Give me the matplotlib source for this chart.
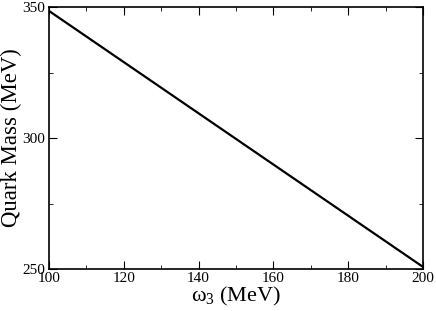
import matplotlib
matplotlib.use("Agg")
import matplotlib.pyplot as plt
from matplotlib.ticker import MultipleLocator

omega3 = [100, 200]
quark_mass = [348.5, 250.8]

plt.rcParams['font.family'] = ['Liberation Serif', 'DejaVu Serif']
plt.rcParams['mathtext.fontset'] = 'custom'
plt.rcParams['mathtext.rm'] = 'Liberation Serif'
plt.rcParams['mathtext.it'] = 'Liberation Serif'

fig = plt.figure(figsize=(4.36, 3.11), dpi=100)
ax = fig.add_axes([49 / 436, 1 - 269 / 311, 374 / 436, 262 / 311])

ax.plot(omega3, quark_mass, color='black', lw=1.6)

ax.set_xlim(100, 200)
ax.set_ylim(250, 350)
ax.xaxis.set_major_locator(MultipleLocator(20))
ax.xaxis.set_minor_locator(MultipleLocator(10))
ax.yaxis.set_major_locator(MultipleLocator(50))
ax.yaxis.set_minor_locator(MultipleLocator(25))
ax.tick_params(which='both', direction='in', top=True, right=True, labelsize=11)
ax.tick_params(which='major', length=6)
ax.tick_params(which='minor', length=3)
ax.tick_params(axis='x', pad=2)
ax.tick_params(axis='y', pad=3)
for s in ax.spines.values():
    s.set_linewidth(1.2)

ax.set_xlabel(r'$\omega_3$ (MeV)', fontsize=16, labelpad=0)
ax.set_ylabel('Quark Mass (MeV)', fontsize=16.4)
ax.yaxis.set_label_coords(-0.073, 0.5)

fig.savefig('out.png', dpi=100)
